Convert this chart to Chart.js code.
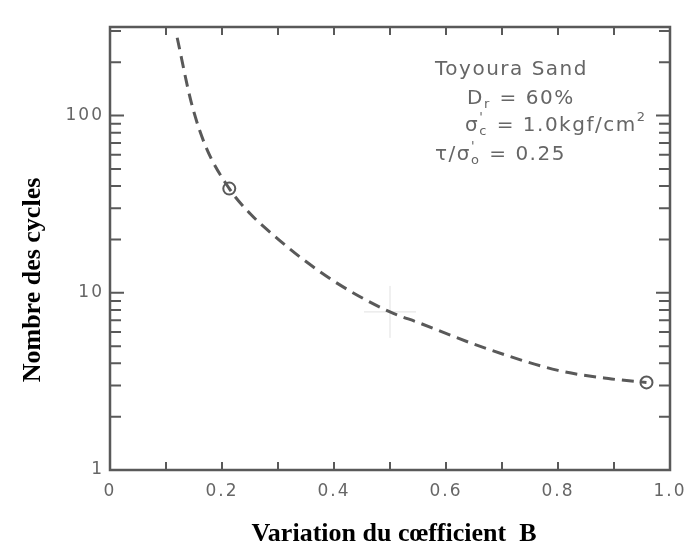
<!DOCTYPE html>
<html>
<head>
<meta charset="utf-8">
<script src="https://cdn.jsdelivr.net/npm/chart.js@4.4.0/dist/chart.umd.min.js"></script>
<style>
  body { margin: 0; background: #fff; }
</style>
</head>
<body>
<canvas id="myChart" width="697" height="547"></canvas>
<script>
// courbe
const coefB = [0.12, 0.145, 0.17, 0.213, 0.25, 0.297, 0.35, 0.414, 0.5, 0.55, 0.66, 0.8, 0.89, 0.958];
const cycles = [275, 119, 68, 38.7, 28, 20.5, 15, 10.9, 7.8, 6.8, 5.0, 3.65, 3.28, 3.12];
// points mesures (cercles)
const pointsB = [0.213, 0.958];
const pointsN = [38.7, 3.12];
// croix du scan
const croixB = [0.5];
const croixN = [7.8];

const xLabels = [0, 0.2, 0.4, 0.6, 0.8, 1.0];
const xMinor = [0.1, 0.2, 0.3, 0.4, 0.5, 0.6, 0.7, 0.8, 0.9];
const yLabels = [1, 10, 100];
const yMajor = [10, 100];
const yMinor = [2, 3, 4, 5, 6, 7, 8, 9, 20, 30, 40, 50, 60, 70, 80, 90, 200, 300];

const gris = "#595959";
const grisTexte = "#666";

function drawRich(c, x, y, parts) {
  let cx = x;
  parts.forEach(p => {
    if (p.t) {
      c.font = "20px 'DejaVu Sans'";
      c.fillText(p.t, cx, y);
      cx += c.measureText(p.t).width;
    } else {
      c.font = "13px 'DejaVu Sans'";
      let w = 0;
      if (p.sub) { c.fillText(p.sub, cx, y + 6); w = c.measureText(p.sub).width; }
      if (p.sup) { c.fillText(p.sup, cx, y - 8); w = Math.max(w, c.measureText(p.sup).width); }
      cx += w + 1;
    }
  });
}

const decorPlugin = {
  id: "decor",
  beforeDraw(chart) {
    chart.ctx.letterSpacing = "2px";
  },
  afterDatasetsDraw(chart) {
    const c = chart.ctx;
    const a = chart.chartArea;
    const xs = chart.scales.x;
    const ys = chart.scales.y;
    c.save();
    c.letterSpacing = "0px";
    c.strokeStyle = gris;
    c.lineWidth = 2;
    c.beginPath();
    xMinor.forEach(v => {
      const px = xs.getPixelForValue(v);
      c.moveTo(px, a.bottom); c.lineTo(px, a.bottom - 8);
      c.moveTo(px, a.top); c.lineTo(px, a.top + 8);
    });
    yMajor.forEach(v => {
      const py = ys.getPixelForValue(v);
      c.moveTo(a.left, py); c.lineTo(a.left + 14, py);
      c.moveTo(a.right, py); c.lineTo(a.right - 14, py);
    });
    yMinor.forEach(v => {
      const py = ys.getPixelForValue(v);
      c.moveTo(a.left, py); c.lineTo(a.left + 11, py);
      c.moveTo(a.right, py); c.lineTo(a.right - 11, py);
    });
    c.stroke();
    c.lineWidth = 2.5;
    c.strokeRect(a.left, a.top, a.width, a.height);

    // annotation
    c.fillStyle = grisTexte;
    c.textBaseline = "middle";
    c.textAlign = "left";
    c.letterSpacing = "1.5px";
    drawRich(c, 435, 70, [{t: "Toyoura Sand"}]);
    drawRich(c, 467, 99, [{t: "D"}, {sub: "r"}, {t: " = 60%"}]);
    drawRich(c, 465, 126, [{t: "σ"}, {sub: "c", sup: "'"}, {t: " = 1.0kgf/cm"}, {sup: "2"}]);
    drawRich(c, 435, 155, [{t: "τ/σ"}, {sub: "o", sup: "'"}, {t: " = 0.25"}]);
    c.letterSpacing = "0px";

    // titres des axes
    c.fillStyle = "#000";
    c.font = "bold 26px 'Liberation Serif'";
    c.textAlign = "center";
    c.fillText("Variation du cœfficient  B", 394, 534);
    c.translate(33, 280);
    c.rotate(-Math.PI / 2);
    c.fillText("Nombre des cycles", 0, 0);
    c.restore();
  }
};

const data = {
  datasets: [
    {
      label: "courbe",
      data: coefB.map((b, i) => ({x: b, y: cycles[i]})),
      borderColor: gris,
      borderWidth: 3,
      borderDash: [12, 7],
      pointRadius: 0,
      cubicInterpolationMode: "monotone",
      fill: false,
    },
    {
      label: "croix",
      data: croixB.map((b, i) => ({x: b, y: croixN[i]})),
      showLine: false,
      pointStyle: "cross",
      pointRadius: 26,
      borderColor: "rgba(0,0,0,0.12)",
      borderWidth: 1,
    },
    {
      label: "points",
      data: pointsB.map((b, i) => ({x: b, y: pointsN[i]})),
      showLine: false,
      pointStyle: "circle",
      pointRadius: 6,
      backgroundColor: "#fff",
      borderColor: gris,
      borderWidth: 2,
    },
  ],
};

const config = {
  type: "line",
  data: data,
  plugins: [decorPlugin],
  options: {
    responsive: false,
    animation: false,
    layout: { padding: { top: 16, right: 17, left: 0, bottom: 0 } },
    plugins: { legend: { display: false }, tooltip: { enabled: false } },
    scales: {
      x: {
        type: "linear",
        min: 0,
        max: 1,
        grid: { display: false, drawTicks: false },
        border: { display: false },
        afterBuildTicks: s => { s.ticks = xLabels.map(v => ({value: v})); },
        afterFit: s => { s.height = 77; },
        ticks: {
          padding: 11,
          color: grisTexte,
          font: { family: "'DejaVu Sans'", size: 17 },
          callback: v => (v === 0 ? "0" : v.toFixed(1)),
        },
      },
      y: {
        type: "logarithmic",
        min: 1,
        max: 316,
        grid: { display: false, drawTicks: false },
        border: { display: false },
        afterBuildTicks: s => { s.ticks = yLabels.map(v => ({value: v})); },
        afterFit: s => { s.width = 110; },
        ticks: {
          padding: 6,
          color: grisTexte,
          font: { family: "'DejaVu Sans'", size: 17 },
          callback: v => String(v),
        },
      },
    },
  },
};

const ctx = document.getElementById("myChart");
const myChart = new Chart(ctx, config);
</script>
</body>
</html>
